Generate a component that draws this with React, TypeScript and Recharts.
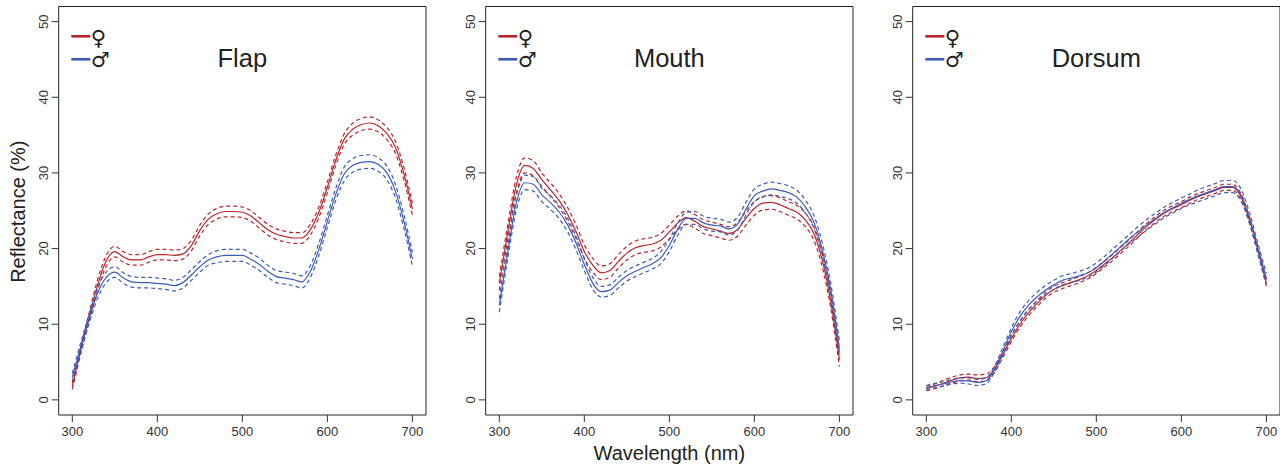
import React from 'react';
import { LineChart, Line, XAxis, YAxis, ReferenceArea, Customized } from 'recharts';

// ---------- data ----------
const wavelengths = [300, 310, 320, 330, 340, 350, 360, 370, 380, 390, 400, 410, 420, 430, 440, 450, 460, 470, 480, 490, 500, 510, 520, 530, 540, 550, 560, 570, 580, 590, 600, 610, 620, 630, 640, 650, 660, 670, 680, 690, 700];
const xTicks = [300, 400, 500, 600, 700];
const yTicks = [0, 10, 20, 30, 40, 50];

const flapFemaleMean = [1.8, 6.6, 11.0, 15.3, 18.4, 19.6, 18.9, 18.5, 18.5, 18.9, 19.2, 19.2, 19.1, 19.3, 20.4, 22.4, 23.9, 24.6, 24.9, 24.9, 24.8, 24.3, 23.4, 22.5, 21.9, 21.6, 21.4, 21.4, 22.5, 24.8, 28.1, 31.7, 34.5, 35.8, 36.4, 36.6, 36.2, 35.2, 33.4, 29.9, 25.2];
const flapFemaleUpper = [2.2, 7.1, 11.6, 16.0, 19.1, 20.3, 19.6, 19.2, 19.2, 19.6, 19.9, 19.9, 19.8, 20.0, 21.1, 23.1, 24.6, 25.3, 25.6, 25.6, 25.5, 25.0, 24.1, 23.2, 22.6, 22.3, 22.1, 22.1, 23.2, 25.5, 28.8, 32.4, 35.2, 36.6, 37.2, 37.4, 37.0, 36.0, 34.2, 30.7, 26.0];
const flapFemaleLower = [1.4, 6.1, 10.4, 14.6, 17.7, 18.9, 18.2, 17.8, 17.8, 18.2, 18.5, 18.5, 18.4, 18.6, 19.7, 21.7, 23.2, 23.9, 24.2, 24.2, 24.1, 23.6, 22.7, 21.8, 21.2, 20.9, 20.7, 20.7, 21.8, 24.1, 27.4, 31.0, 33.8, 35.0, 35.6, 35.8, 35.4, 34.4, 32.6, 29.1, 24.4];
const flapMaleMean = [3.0, 7.0, 10.8, 14.2, 16.2, 16.9, 16.1, 15.6, 15.5, 15.5, 15.4, 15.3, 15.1, 15.5, 16.5, 17.6, 18.5, 18.9, 19.1, 19.1, 19.1, 18.6, 17.9, 17.0, 16.3, 16.1, 15.9, 15.6, 17.0, 19.9, 23.6, 27.2, 29.9, 31.0, 31.4, 31.5, 31.1, 30.0, 27.6, 23.6, 18.6];
const flapMaleUpper = [3.5, 7.6, 11.4, 14.9, 16.9, 17.6, 16.8, 16.3, 16.2, 16.2, 16.1, 16.0, 15.8, 16.2, 17.2, 18.3, 19.2, 19.7, 19.9, 19.9, 19.9, 19.4, 18.7, 17.8, 17.1, 16.9, 16.7, 16.4, 17.8, 20.7, 24.4, 28.0, 30.8, 31.9, 32.3, 32.4, 32.0, 30.9, 28.5, 24.5, 19.5];
const flapMaleLower = [2.5, 6.4, 10.2, 13.5, 15.5, 16.2, 15.4, 14.9, 14.8, 14.8, 14.7, 14.6, 14.4, 14.8, 15.8, 16.9, 17.8, 18.1, 18.3, 18.3, 18.3, 17.8, 17.1, 16.2, 15.5, 15.3, 15.1, 14.8, 16.2, 19.1, 22.8, 26.4, 29.0, 30.1, 30.5, 30.6, 30.2, 29.1, 26.7, 22.7, 17.7];

const mouthFemaleMean = [15.4, 22.2, 28.4, 31.0, 30.6, 29.1, 27.8, 26.4, 24.6, 22.3, 19.6, 17.8, 16.8, 17.1, 18.3, 19.4, 20.1, 20.4, 20.6, 21.1, 22.2, 23.4, 24.1, 23.6, 22.9, 22.6, 22.3, 22.0, 22.5, 24.0, 25.3, 26.0, 26.1, 25.8, 25.3, 24.8, 23.8, 22.0, 18.4, 12.9, 5.3];
const mouthFemaleUpper = [16.3, 23.2, 29.4, 32.0, 31.6, 30.0, 28.7, 27.3, 25.5, 23.2, 20.5, 18.7, 17.7, 18.0, 19.2, 20.3, 21.0, 21.3, 21.5, 22.0, 23.1, 24.3, 25.0, 24.5, 23.8, 23.5, 23.2, 22.9, 23.4, 24.9, 26.2, 26.9, 27.0, 26.7, 26.2, 25.7, 24.7, 22.9, 19.3, 13.8, 6.2];
const mouthFemaleLower = [14.5, 21.2, 27.4, 30.0, 29.6, 28.2, 26.9, 25.5, 23.7, 21.4, 18.7, 16.9, 15.9, 16.2, 17.4, 18.5, 19.2, 19.5, 19.7, 20.2, 21.3, 22.5, 23.2, 22.7, 22.0, 21.7, 21.4, 21.1, 21.6, 23.1, 24.4, 25.1, 25.2, 24.9, 24.4, 23.9, 22.9, 21.1, 17.5, 12.0, 4.4];
const mouthMaleMean = [12.5, 19.6, 26.0, 28.7, 28.5, 27.1, 26.1, 24.9, 23.2, 20.8, 17.9, 15.4, 14.3, 14.5, 15.5, 16.4, 17.0, 17.5, 18.0, 18.8, 20.4, 22.6, 24.0, 24.0, 23.4, 23.1, 23.0, 22.6, 23.2, 25.2, 27.0, 27.6, 27.9, 27.7, 27.4, 26.8, 25.5, 23.5, 19.8, 14.4, 6.8];
const mouthMaleUpper = [13.4, 20.5, 26.9, 29.7, 29.5, 28.0, 27.0, 25.8, 24.1, 21.7, 18.7, 16.2, 15.0, 15.2, 16.2, 17.1, 17.7, 18.2, 18.7, 19.6, 21.2, 23.4, 24.8, 24.9, 24.3, 24.0, 23.9, 23.5, 24.1, 26.1, 27.9, 28.5, 28.8, 28.6, 28.3, 27.7, 26.4, 24.4, 20.7, 15.3, 7.8];
const mouthMaleLower = [11.6, 18.7, 25.1, 27.8, 27.6, 26.2, 25.2, 24.0, 22.3, 19.9, 17.1, 14.6, 13.6, 13.8, 14.8, 15.7, 16.3, 16.8, 17.3, 18.0, 19.6, 21.8, 23.2, 23.2, 22.6, 22.3, 22.2, 21.8, 22.4, 24.4, 26.2, 26.8, 27.1, 26.9, 26.6, 26.0, 24.7, 22.7, 19.0, 13.6, 6.0];

const dorsumFemaleMean = [1.5, 1.8, 2.2, 2.6, 2.9, 3.0, 2.8, 2.9, 4.0, 6.0, 8.1, 10.0, 11.5, 12.7, 13.8, 14.6, 15.1, 15.5, 15.9, 16.4, 17.1, 18.0, 18.9, 19.9, 20.9, 22.0, 23.0, 23.9, 24.7, 25.3, 25.8, 26.4, 26.9, 27.3, 27.7, 28.1, 28.1, 26.9, 23.8, 19.8, 15.4];
const dorsumFemaleUpper = [1.8, 2.1, 2.6, 3.0, 3.3, 3.4, 3.3, 3.4, 4.4, 6.4, 8.5, 10.4, 11.9, 13.1, 14.2, 15.0, 15.5, 15.9, 16.3, 16.8, 17.5, 18.4, 19.3, 20.3, 21.3, 22.4, 23.4, 24.3, 25.1, 25.7, 26.2, 26.8, 27.3, 27.7, 28.1, 28.5, 28.5, 27.3, 24.2, 20.2, 15.9];
const dorsumFemaleLower = [1.2, 1.5, 1.9, 2.2, 2.5, 2.6, 2.4, 2.5, 3.6, 5.6, 7.7, 9.6, 11.1, 12.3, 13.4, 14.2, 14.7, 15.1, 15.5, 16.0, 16.7, 17.6, 18.5, 19.5, 20.5, 21.6, 22.6, 23.5, 24.3, 24.9, 25.4, 26.0, 26.5, 26.9, 27.3, 27.7, 27.7, 26.5, 23.4, 19.4, 15.0];
const dorsumMaleMean = [1.6, 1.9, 2.1, 2.4, 2.55, 2.5, 2.3, 2.5, 4.0, 6.4, 9.0, 11.0, 12.5, 13.6, 14.5, 15.2, 15.8, 16.1, 16.4, 16.8, 17.5, 18.4, 19.4, 20.4, 21.4, 22.3, 23.2, 24.0, 24.8, 25.4, 26.0, 26.5, 27.0, 27.4, 27.8, 28.2, 28.2, 27.1, 24.1, 20.0, 16.0];
const dorsumMaleUpper = [1.9, 2.2, 2.4, 2.7, 2.9, 2.9, 2.7, 2.9, 4.4, 6.9, 9.5, 11.6, 13.1, 14.2, 15.1, 15.8, 16.4, 16.7, 17.0, 17.4, 18.1, 19.0, 20.0, 21.0, 22.0, 23.0, 23.9, 24.7, 25.5, 26.1, 26.7, 27.2, 27.8, 28.2, 28.6, 29.0, 29.0, 27.9, 24.8, 20.7, 16.7];
const dorsumMaleLower = [1.3, 1.6, 1.8, 2.1, 2.2, 2.1, 1.9, 2.1, 3.6, 5.9, 8.5, 10.4, 11.9, 13.0, 13.9, 14.6, 15.2, 15.5, 15.8, 16.2, 16.9, 17.8, 18.8, 19.8, 20.8, 21.6, 22.5, 23.3, 24.1, 24.7, 25.3, 25.8, 26.2, 26.6, 27.0, 27.4, 27.4, 26.3, 23.4, 19.3, 15.3];

// ---------- styling ----------
const FEMALE = '#b8262c';
const MALE = '#3b5bb7';
const FONT = '"Liberation Sans", Arial, Helvetica, sans-serif';
const SYMBOL_FONT = '"DejaVu Sans", sans-serif';
const INK = '#222222';

const CHART_W = 427;
const CHART_H = 465;
const Y_AXIS_W = 58.7;
const X_AXIS_H = 50;
const MARGIN = { top: 6.5, right: 1, bottom: 0, left: 0 };
const PLOT_W = CHART_W - MARGIN.right - MARGIN.left - Y_AXIS_W;

function buildRows(fm, fu, fl, mm, mu, ml) {
  return wavelengths.map((wl, i) => ({
    wl,
    fMean: fm[i], fUp: fu[i], fLo: fl[i],
    mMean: mm[i], mUp: mu[i], mLo: ml[i],
  }));
}

const panels = [
  { title: 'Flap', left: 0, rows: buildRows(flapFemaleMean, flapFemaleUpper, flapFemaleLower, flapMaleMean, flapMaleUpper, flapMaleLower), yLabel: true, xLabel: false },
  { title: 'Mouth', left: 427, rows: buildRows(mouthFemaleMean, mouthFemaleUpper, mouthFemaleLower, mouthMaleMean, mouthMaleUpper, mouthMaleLower), yLabel: false, xLabel: true },
  { title: 'Dorsum', left: 853.6, rows: buildRows(dorsumFemaleMean, dorsumFemaleUpper, dorsumFemaleLower, dorsumMaleMean, dorsumMaleUpper, dorsumMaleLower), yLabel: false, xLabel: false },
];

function YTick(props: any) {
  const { x, y, payload } = props;
  return (
    <text x={x} y={y} transform={`rotate(-90 ${x} ${y})`} textAnchor="middle" fontSize={13} fill="#333" fontFamily={FONT}>
      {payload.value}
    </text>
  );
}

function XTick(props: any) {
  const { x, y, payload } = props;
  return (
    <text x={x} y={y} dy="0.71em" textAnchor="middle" fontSize={13} fill="#333" fontFamily={FONT}>
      {payload.value}
    </text>
  );
}

function Overlay({ title, yLabel, xLabel }: { title: string; yLabel: boolean; xLabel: boolean }) {
  const cx = Y_AXIS_W + PLOT_W / 2;
  const lx1 = Y_AXIS_W + 12.6;
  const lx2 = Y_AXIS_W + 31.6;
  return (
    <g>
      <text x={cx} y={66.7} textAnchor="middle" fontSize={25.5} fill={INK} fontFamily={FONT}>{title}</text>
      <line x1={lx1} x2={lx2} y1={36.3} y2={36.3} stroke={FEMALE} strokeWidth={2.6} />
      <line x1={lx1} x2={lx2} y1={59.3} y2={59.3} stroke={MALE} strokeWidth={2.6} />
      <text x={lx2 + 0.5} y={45} fontSize={21} fill={INK} fontFamily={SYMBOL_FONT}>♀</text>
      <text x={lx2 + 0.5} y={67} fontSize={21} fill={INK} fontFamily={SYMBOL_FONT}>♂</text>
      {yLabel && (
        <text x={25} y={211.7} transform="rotate(-90 25 211.7)" textAnchor="middle" fontSize={20} fill={INK} fontFamily={FONT}>
          Reflectance (%)
        </text>
      )}
      {xLabel && (
        <text x={cx} y={459.5} textAnchor="middle" fontSize={20} fill={INK} fontFamily={FONT}>
          Wavelength (nm)
        </text>
      )}
    </g>
  );
}

function Panel({ panel }: { panel: any }) {
  const lineProps = { dot: false, activeDot: false, isAnimationActive: false, type: 'monotone' as const, strokeWidth: 1.2 };
  return (
    <div style={{ position: 'absolute', left: panel.left, top: 0, width: CHART_W, height: CHART_H }}>
      <LineChart width={CHART_W} height={CHART_H} data={panel.rows} margin={MARGIN}>
        <XAxis
          dataKey="wl"
          type="number"
          domain={[284, 716]}
          ticks={xTicks}
          interval={0}
          allowDataOverflow
          height={X_AXIS_H}
          axisLine={false}
          tickLine={{ stroke: '#333', strokeWidth: 1 }}
          tickSize={7}
          tickMargin={5}
          tick={<XTick />}
        />
        <YAxis
          type="number"
          domain={[-2, 52]}
          ticks={yTicks}
          interval={0}
          allowDataOverflow
          width={Y_AXIS_W}
          axisLine={false}
          tickLine={{ stroke: '#333', strokeWidth: 1 }}
          tickSize={7}
          tickMargin={4}
          tick={<YTick />}
        />
        <ReferenceArea x1={284} x2={716} y1={-2} y2={52} fill="none" stroke={INK} strokeWidth={1} ifOverflow="visible" />
        <Line dataKey="fUp" stroke={FEMALE} strokeDasharray="4 3" {...lineProps} />
        <Line dataKey="fLo" stroke={FEMALE} strokeDasharray="4 3" {...lineProps} />
        <Line dataKey="fMean" stroke={FEMALE} {...lineProps} />
        <Line dataKey="mUp" stroke={MALE} strokeDasharray="4 3" {...lineProps} />
        <Line dataKey="mLo" stroke={MALE} strokeDasharray="4 3" {...lineProps} />
        <Line dataKey="mMean" stroke={MALE} {...lineProps} />
        <Customized component={<Overlay title={panel.title} yLabel={panel.yLabel} xLabel={panel.xLabel} />} />
      </LineChart>
    </div>
  );
}

export default function App() {
  return (
    <div style={{ position: 'absolute', left: 0, top: 0, width: 1280, height: 465, background: '#ffffff', overflow: 'hidden' }}>
      {panels.map((p) => (
        <Panel key={p.title} panel={p} />
      ))}
    </div>
  );
}
